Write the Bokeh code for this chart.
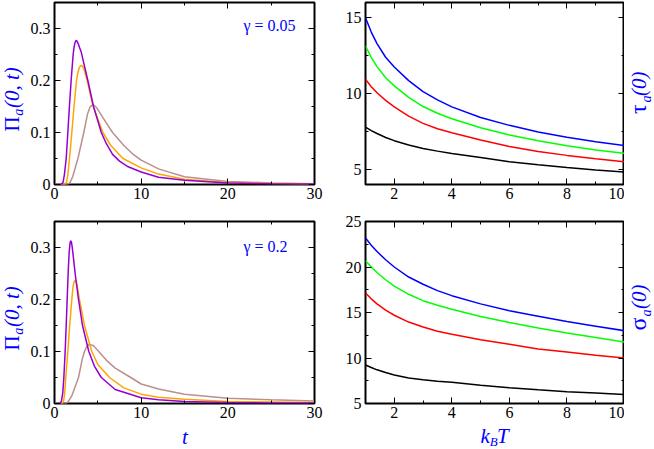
import math
from bokeh.plotting import figure
from bokeh.layouts import gridplot
from bokeh.models import LinearAxis, FixedTicker, Label, Range1d, CustomLabelingPolicy
from bokeh.core.properties import value
from bokeh.embed import file_html
from bokeh.resources import INLINE

# ---------------- data ----------------
# top-left panel (gamma = 0.05): Pi_a(0, t)
violet_05_t = [0, 0.8, 1.0, 1.15, 1.35, 1.54, 1.72, 1.92, 2.15, 2.25, 2.35, 2.45, 2.54, 2.65, 2.75, 2.9, 3.08, 3.4, 3.85, 4.5, 5.4, 6.0, 6.7, 7.5, 8.5, 10, 12, 15, 20, 25, 30]
violet_05_v = [0, 0, 0.005, 0.02, 0.05, 0.10, 0.15, 0.20, 0.25, 0.263, 0.272, 0.276, 0.277, 0.274, 0.27, 0.263, 0.255, 0.232, 0.20, 0.15, 0.10, 0.078, 0.058, 0.045, 0.034, 0.024, 0.014, 0.008, 0.003, 0.0015, 0.0008]
orange_05_t = [0, 1.2, 1.4, 1.55, 1.73, 2.0, 2.25, 2.54, 2.7, 2.85, 3.0, 3.1, 3.25, 3.4, 3.77, 4.46, 5.58, 6.5, 7.9, 10, 12, 15, 20, 25, 30]
orange_05_v = [0, 0, 0.005, 0.02, 0.05, 0.10, 0.15, 0.20, 0.215, 0.224, 0.228, 0.229, 0.227, 0.222, 0.20, 0.15, 0.10, 0.075, 0.05, 0.032, 0.02, 0.01, 0.004, 0.002, 0.001]
brown_05_t = [0, 1.5, 1.8, 2.1, 2.7, 3.38, 3.8, 4.1, 4.35, 4.6, 4.9, 5.6, 6.7, 8, 9, 10, 12, 15, 20, 25, 30]
brown_05_v = [0, 0, 0.004, 0.015, 0.05, 0.10, 0.135, 0.149, 0.153, 0.152, 0.147, 0.128, 0.10, 0.075, 0.059, 0.047, 0.03, 0.015, 0.006, 0.003, 0.0015]

# bottom-left panel (gamma = 0.2): Pi_a(0, t)
violet_2_t = [0, 0.65, 0.8, 0.95, 1.08, 1.23, 1.35, 1.46, 1.6, 1.7, 1.8, 1.88, 1.96, 2.05, 2.2, 2.38, 2.77, 3.23, 3.96, 4.6, 5.4, 7, 10, 12, 15, 20, 25, 30]
violet_2_v = [0, 0, 0.005, 0.02, 0.05, 0.10, 0.15, 0.20, 0.26, 0.292, 0.309, 0.313, 0.31, 0.30, 0.278, 0.25, 0.20, 0.15, 0.10, 0.072, 0.05, 0.027, 0.011, 0.007, 0.004, 0.002, 0.0012, 0.0008]
orange_2_t = [0, 0.9, 1.05, 1.18, 1.3, 1.54, 1.75, 2.0, 2.12, 2.25, 2.38, 2.5, 2.6, 2.88, 3.46, 4.3, 5.0, 6.35, 8, 10, 12, 15, 20, 25, 30]
orange_2_v = [0, 0, 0.005, 0.02, 0.05, 0.10, 0.15, 0.20, 0.222, 0.234, 0.237, 0.234, 0.228, 0.20, 0.15, 0.10, 0.075, 0.05, 0.03, 0.018, 0.012, 0.008, 0.004, 0.003, 0.002]
brown_2_t = [0, 1.3, 1.6, 2.0, 2.77, 3.2, 3.46, 3.7, 3.96, 4.25, 4.5, 4.9, 6, 7, 8.8, 10, 12, 15, 20, 25, 30]
brown_2_v = [0, 0, 0.004, 0.015, 0.05, 0.085, 0.10, 0.109, 0.1135, 0.1125, 0.111, 0.104, 0.083, 0.068, 0.05, 0.0375, 0.028, 0.018, 0.01, 0.007, 0.005]

# right panels: x = k_B T
kT = [1, 1.2, 1.4, 1.7, 2, 2.5, 3, 3.5, 4, 5, 6, 7, 8, 9, 10]
# top-right: tau_a(0)
tau_blue = [15.0, 14.05, 13.29, 12.39, 11.75, 10.85, 10.13, 9.58, 9.12, 8.42, 7.9, 7.46, 7.12, 6.82, 6.56]
tau_green = [13.15, 12.38, 11.77, 11.04, 10.5, 9.74, 9.14, 8.7, 8.34, 7.74, 7.26, 6.88, 6.55, 6.28, 6.05]
tau_red = [10.95, 10.45, 10.05, 9.55, 9.12, 8.51, 8.03, 7.68, 7.41, 6.93, 6.5, 6.18, 5.92, 5.7, 5.5]
tau_black = [7.78, 7.55, 7.36, 7.1, 6.89, 6.6, 6.38, 6.2, 6.05, 5.78, 5.5, 5.3, 5.12, 4.96, 4.82]
# bottom-right: sigma_a(0)
sig_blue = [23.2, 22.4, 21.7, 20.8, 20.0, 18.9, 18.1, 17.4, 16.85, 15.95, 15.2, 14.6, 14.0, 13.5, 13.0]
sig_green = [20.7, 20.0, 19.4, 18.6, 17.9, 17.0, 16.3, 15.8, 15.35, 14.55, 13.9, 13.3, 12.75, 12.25, 11.76]
sig_red = [17.15, 16.5, 15.95, 15.25, 14.7, 13.95, 13.4, 12.95, 12.6, 12.0, 11.5, 11.0, 10.65, 10.3, 10.0]
sig_black = [9.23, 8.95, 8.7, 8.4, 8.13, 7.8, 7.6, 7.45, 7.33, 7.0, 6.72, 6.5, 6.3, 6.15, 6.0]

# ticks
t_ticks = [0, 10, 20, 30]
t_minor = [5, 15, 25]
pi_ticks = [0, 0.1, 0.2, 0.3]
pi_tick_labels = ["0", "0.1", "0.2", "0.3"]
pi_minor = [0.05, 0.15, 0.25]
kT_ticks = [2, 4, 6, 8, 10]
kT_minor = [1, 3, 5, 7, 9]
tau_ticks = [5, 10, 15]
tau_minor = [7.5, 12.5]
sig_ticks = [5, 10, 15, 20, 25]
sig_minor = [7.5, 12.5, 17.5, 22.5]

BLUE = "#0000ff"
SERIF = "Liberation Serif"
UP = math.pi / 2
FH = 182  # frame height of each panel


def style_axis(ax, ticks, minor, labels=None, show=True, standoff=4):
    ax.ticker = FixedTicker(ticks=ticks, minor_ticks=minor)
    ax.axis_line_color = None
    ax.major_tick_in = 6
    ax.major_tick_out = 0
    ax.minor_tick_in = 3
    ax.minor_tick_out = 0
    ax.major_tick_line_color = "black"
    ax.minor_tick_line_color = "black"
    ax.major_tick_line_width = 1
    ax.minor_tick_line_width = 1
    ax.axis_label = None
    if show:
        ax.major_label_text_font = SERIF
        ax.major_label_text_font_size = "16px"
        ax.major_label_text_color = "black"
        ax.major_label_standoff = standoff
        if labels is not None:
            ax.major_label_overrides = {tk: lb for tk, lb in zip(ticks, labels)}
    else:
        ax.major_label_text_font_size = "0px"
        ax.major_label_standoff = 0
        ax.major_label_policy = CustomLabelingPolicy(code="for (const i of indices) indices.unset(i)\nreturn indices")


def make_fig(xr, yr, fw, bl, br, bt, bb, xt, xm, yt, ym, ylabels=None):
    p = figure(x_range=Range1d(*xr), y_range=Range1d(*yr),
               frame_width=fw, frame_height=FH,
               min_border_left=bl, min_border_right=br,
               min_border_top=bt, min_border_bottom=bb,
               output_backend="svg", toolbar_location=None)
    p.grid.visible = False
    p.outline_line_color = "black"
    p.outline_line_width = 2
    p.background_fill_color = "white"
    p.border_fill_color = "white"
    style_axis(p.xaxis[0], xt, xm, standoff=3)
    style_axis(p.yaxis[0], yt, ym, ylabels)
    top = LinearAxis()
    right = LinearAxis()
    p.add_layout(top, "above")
    p.add_layout(right, "right")
    style_axis(top, xt, xm, show=False)
    style_axis(right, yt, ym, show=False)
    return p


def label_fig(w, h, fw, fh):
    # strip for axis titles; gridplot aligns its frame with the panels' frames,
    # so the ranges are given in pixels of that frame
    p = figure(width=w, height=h, x_range=Range1d(0, fw), y_range=Range1d(0, fh),
               x_axis_type=None, y_axis_type=None, min_border=0,
               output_backend="svg", toolbar_location=None)
    p.outline_line_color = None
    p.background_fill_color = "white"
    p.border_fill_color = "white"
    return p


def txt(p, s, x, y, size, style="italic", angle=0.0, align="left"):
    # (x, y) is the vertical middle of the text line
    p.text(x=[x], y=[y], text=[s], text_font=value(SERIF), text_font_size=value(size),
           text_font_style=style, text_color=BLUE, angle=angle,
           text_align=align, text_baseline="middle")


tl = make_fig((0, 30), (0, 0.35), 260, 27, 11, 2, 26, t_ticks, t_minor, pi_ticks, pi_minor, pi_tick_labels)
tr = make_fig((1, 10), (4, 16), 259, 40, 0, 2, 26, kT_ticks, kT_minor, tau_ticks, tau_minor)
bl = make_fig((0, 30), (0, 0.35), 260, 27, 11, 11, 21, t_ticks, t_minor, pi_ticks, pi_minor, pi_tick_labels)
br = make_fig((1, 10), (5, 25), 259, 40, 0, 11, 21, kT_ticks, kT_minor, sig_ticks, sig_minor)

LW = 1.5
tl.line(brown_05_t, brown_05_v, line_color="#bc8f8f", line_width=LW)
tl.line(orange_05_t, orange_05_v, line_color="#ffa500", line_width=LW)
tl.line(violet_05_t, violet_05_v, line_color="#9400d3", line_width=LW)
bl.line(brown_2_t, brown_2_v, line_color="#bc8f8f", line_width=LW)
bl.line(orange_2_t, orange_2_v, line_color="#ffa500", line_width=LW)
bl.line(violet_2_t, violet_2_v, line_color="#9400d3", line_width=LW)

for ys, c in [(tau_black, "black"), (tau_red, "#ff0000"), (tau_green, "#00ff00"), (tau_blue, "#0000ff")]:
    tr.line(kT, ys, line_color=c, line_width=LW)
for ys, c in [(sig_black, "black"), (sig_red, "#ff0000"), (sig_green, "#00ff00"), (sig_blue, "#0000ff")]:
    br.line(kT, ys, line_color=c, line_width=LW)

# gamma annotations (data coordinates, inside the frames)
tl.add_layout(Label(x=21.8, y=0.306, text="γ = 0.05", text_font=SERIF, text_font_size="16px",
                    text_color=BLUE, text_baseline="middle"))
bl.add_layout(Label(x=21.8, y=0.302, text="γ = 0.2", text_font=SERIF, text_font_size="16px",
                    text_color=BLUE, text_baseline="middle"))

# axis-title strips
yl1 = label_fig(27, 210, 27, FH)
yl2 = label_fig(27, 214, 27, FH)
yr1 = label_fig(30, 210, 30, FH)
yr2 = label_fig(30, 214, 30, FH)
xl1 = label_fig(298, 24, 260, 24)
xl2 = label_fig(299, 24, 259, 24)

for p in (yl1, yl2):
    txt(p, "Π", 11.9, 53, "21px", style="normal", angle=UP)
    txt(p, "a", 17.8, 68.8, "14px", angle=UP)
    txt(p, "(0, t)", 11.9, 76.5, "21px", angle=UP)

txt(yr1, "τ", 13.9, 70.5, "24px", style="normal", angle=UP)
txt(yr1, "a", 21.8, 82, "14px", angle=UP)
txt(yr1, "(0)", 14.9, 88.5, "21px", angle=UP)
txt(yr2, "σ", 13.9, 73, "24px", style="normal", angle=UP)
txt(yr2, "a", 21.8, 87, "14px", angle=UP)
txt(yr2, "(0)", 14.9, 94.5, "21px", angle=UP)

txt(xl1, "t", 130.5, 12, "21px", align="center")
txt(xl2, "k", 115, 13, "21px")
txt(xl2, "B", 124.3, 7.5, "13px")
txt(xl2, "T", 131.5, 13, "21px")

grid = gridplot([[yl1, tl, tr, yr1], [yl2, bl, br, yr2], [None, xl1, xl2, None]],
                toolbar_location=None)

open("out.html", "w").write(file_html(grid, INLINE))
